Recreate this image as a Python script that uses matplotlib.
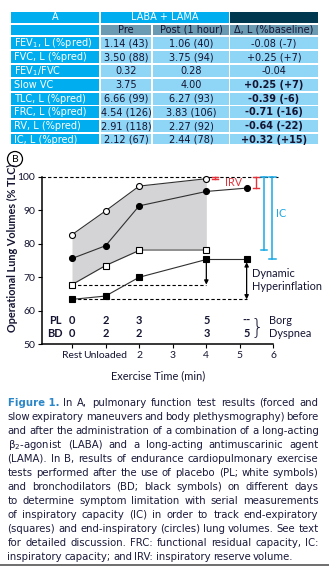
import matplotlib
matplotlib.use('Agg')
import matplotlib.pyplot as plt
from matplotlib.patches import Rectangle, Circle

plt.rcParams['mathtext.default'] = 'regular'

# ---- table (panel A) ----
row_labels = ['FEV$_1$, L (%pred)', 'FVC, L (%pred)', 'FEV$_1$/FVC', 'Slow VC',
              'TLC, L (%pred)', 'FRC, L (%pred)', 'RV, L (%pred)', 'IC, L (%pred)']
pre = ['1.14 (43)', '3.50 (88)', '0.32', '3.75', '6.66 (99)', '4.54 (126)', '2.91 (118)', '2.12 (67)']
post = ['1.06 (40)', '3.75 (94)', '0.28', '4.00', '6.27 (93)', '3.83 (106)', '2.27 (92)', '2.44 (78)']
delta = ['-0.08 (-7)', '+0.25 (+7)', '-0.04', '+0.25 (+7)', '-0.39 (-6)', '-0.71 (-16)',
         '-0.64 (-22)', '+0.32 (+15)']
delta_bold = [False, False, False, True, True, True, True, True]

# ---- exercise test (panel B) ----
xticks = [0, 1, 2, 3, 4, 5, 6]
xtick_labels = ['Rest', 'Unloaded', '2', '3', '4', '5', '6']
pl_x = [0, 1, 2, 4]
bd_x = [0, 1, 2, 4, 5.2]
pl_insp = [82.7, 89.8, 97.2, 99.4]
bd_insp = [75.6, 79.4, 91.3, 95.6, 96.6]
pl_exp = [67.8, 73.5, 78.0, 78.0]
bd_exp = [63.4, 64.4, 70.0, 75.3, 75.3]
borg_x = [0, 1, 2, 4, 5.2]
pl_borg = ['0', '2', '3', '5', '--']
bd_borg = ['0', '2', '2', '3', '5']

caption = [
    [('Figure 1.', 'b'), ('In', 'n'), ('A,', 'n'), ('pulmonary', 'n'), ('function', 'n'), ('test', 'n'),
     ('results', 'n'), ('(forced', 'n'), ('and', 'n')],
    'slow expiratory maneuvers and body plethysmography) before',
    'and after the administration of a combination of a long-acting',
    '\u03b2$_2$-agonist (LABA) and a long-acting antimuscarinic agent',
    '(LAMA). In B, results of endurance cardiopulmonary exercise',
    'tests performed after the use of placebo (PL; white symbols)',
    'and bronchodilators (BD; black symbols) on different days',
    'to determine symptom limitation with serial measurements',
    'of inspiratory capacity (IC) in order to track end-expiratory',
    '(squares) and end-inspiratory (circles) lung volumes. See text',
    'for detailed discussion. FRC: functional residual capacity, IC:',
    'inspiratory capacity; and IRV: inspiratory reserve volume.',
]

W, H = 329, 567
fig = plt.figure(figsize=(W / 100, H / 100), dpi=100)
fig.patch.set_facecolor('white')
ov = fig.add_axes([0, 0, 1, 1])
ov.set_xlim(0, W)
ov.set_ylim(H, 0)
ov.axis('off')

blue = '#00adef'
light = '#8fd6f6'
grayblue = '#6b9ab3'
navy = '#00394f'
txt = '#141432'
tfs = 7.0

cols = [(11, 99.3), (100.7, 151.3), (153.3, 228.7), (230, 318)]

def cell(x0, x1, y0, h, c):
    ov.add_patch(Rectangle((x0, y0), x1 - x0, h, facecolor=c, edgecolor='none'))

# header rows
cell(cols[0][0], cols[0][1], 12, 10.7, blue)
cell(cols[1][0], cols[2][1], 12, 10.7, blue)
cell(cols[3][0], cols[3][1], 12, 10.7, navy)
ov.text(55, 17.4, 'A', color='white', fontsize=tfs, ha='center', va='center')
ov.text((cols[1][0] + cols[2][1]) / 2, 17.4, 'LABA + LAMA', color='white', fontsize=tfs,
        ha='center', va='center')
cell(cols[0][0], cols[0][1], 24.7, 10.7, blue)
for (a, b), s in zip(cols[1:], ['Pre', 'Post (1 hour)', '\u0394, L (%baseline)']):
    cell(a, b, 24.7, 10.7, grayblue)
    ov.text((a + b) / 2, 30.0, s, color=txt, fontsize=tfs, ha='center', va='center')

for i in range(len(row_labels)):
    y0 = 37.3 + 13.8 * i
    h = 12 if i < len(row_labels) - 1 else 10.5
    yc = y0 + 6
    cell(cols[0][0], cols[0][1], y0, h, blue)
    ov.text(14, yc, row_labels[i], color='white', fontsize=tfs, ha='left', va='center')
    for j, vals in enumerate([pre, post, delta]):
        a, b = cols[j + 1]
        cell(a, b, y0, h, light)
        fw = 'bold' if (j == 2 and delta_bold[i]) else 'normal'
        ov.text((a + b) / 2, yc, vals[i], color=txt, fontsize=tfs, ha='center', va='center',
                fontweight=fw)

# circled B
ov.add_patch(Circle((15, 159), 7.5, facecolor='white', edgecolor='black', lw=0.9))
ov.text(15, 159.5, 'B', fontsize=7.5, ha='center', va='center', family='Lato', color='black')

# ---- chart ----
x_left, x_right = 42, 273.5
y_top, y_bot = 176.7, 344.3
ax = fig.add_axes([x_left / W, 1 - y_bot / H, (x_right - x_left) / W, (y_bot - y_top) / H])
ax.set_facecolor('none')
ax.set_xlim(-0.893, 6)
ax.set_ylim(50, 100)
for s in ['top', 'right']:
    ax.spines[s].set_visible(False)
for s in ['left', 'bottom']:
    ax.spines[s].set_linewidth(1.1)
ax.set_yticks([50, 60, 70, 80, 90, 100])
ax.set_xticks(xticks)
ax.set_xticklabels(xtick_labels)
ax.tick_params(length=3, width=0.8, pad=2, labelsize=7.5, labelcolor=txt)
for lab in ax.get_xticklabels() + ax.get_yticklabels():
    lab.set_family('Lato')
ax.set_xlabel('Exercise Time (min)', family='Lato', fontsize=7.9, color=txt, labelpad=7)

ax.fill_between(pl_x, pl_insp, pl_exp, color='#d4d4d6', lw=0, zorder=1)
ax.plot(pl_x[2:], pl_exp[2:], color='#8a8a8a', lw=1.3, zorder=2)

lc = '#303030'
ax.plot(pl_x, pl_insp, color=lc, lw=0.8, marker='o', ms=4.3, mfc='white', mec='black', mew=0.8,
        zorder=4, clip_on=False)
ax.plot(bd_x, bd_insp, color=lc, lw=0.8, marker='o', ms=4.3, mfc='black', mec='black', mew=0.8,
        zorder=4, clip_on=False)
ax.plot(pl_x[:3], pl_exp[:3], color=lc, lw=0.8, zorder=3)
ax.plot(pl_x, pl_exp, ls='none', marker='s', ms=4.3, mfc='white', mec='black', mew=0.8, zorder=4)
ax.plot(bd_x, bd_exp, color=lc, lw=0.8, marker='s', ms=4.3, mfc='black', mec='black', mew=0.8,
        zorder=4)

dash = (0, (3, 2))
ax.plot([-0.893, 6.13], [100, 100], color='black', lw=0.8, ls=dash, clip_on=False, zorder=2)
ax.plot([pl_x[0], pl_x[-1]], [pl_exp[0], pl_exp[0]], color='black', lw=0.8, ls=dash, zorder=2)
ax.plot([bd_x[0], bd_x[-1]], [bd_exp[0], bd_exp[0]], color='black', lw=0.8, ls=dash, zorder=2)

ax.annotate('', xy=(4, pl_exp[0]), xytext=(4, bd_exp[3]),
            arrowprops=dict(arrowstyle='-|>', color='black', lw=0.9, mutation_scale=6,
                            shrinkA=2, shrinkB=0))
ax.annotate('', xy=(5.2, bd_exp[0]), xytext=(5.2, bd_exp[-1]),
            arrowprops=dict(arrowstyle='<|-|>', color='black', lw=0.9, mutation_scale=6,
                            shrinkA=2, shrinkB=0))
ax.text(5.36, 71.2, 'Dynamic', family='Lato', fontsize=7.9, color=txt, va='center')
ax.text(5.36, 67.3, 'Hyperinflation', family='Lato', fontsize=7.9, color=txt, va='center',
        clip_on=False)

red = '#e5323b'
cap = 0.09
for xx, lo in [(4.26, pl_insp[-1]), (5.48, bd_insp[-1])]:
    ax.plot([xx, xx], [lo, 100], color=red, lw=1.0, clip_on=False)
    ax.plot([xx - cap, xx + cap], [lo, lo], color=red, lw=1.0, clip_on=False)
    ax.plot([xx - cap, xx + cap], [100, 100], color=red, lw=1.0, clip_on=False)
ax.text(4.82, 98.3, 'IRV', color=red, family='Lato', fontsize=7.8, ha='center', va='center')

icb = '#1aa9e6'
for xx, lo in [(5.72, pl_exp[-1]), (5.97, bd_exp[-1])]:
    ax.plot([xx, xx], [lo, 100], color=icb, lw=1.1, clip_on=False)
    ax.plot([xx - cap, xx + cap], [lo, lo], color=icb, lw=1.1, clip_on=False)
    ax.plot([xx - cap, xx + cap], [100, 100], color=icb, lw=1.1, clip_on=False)
ax.text(6.24, 89, 'IC', color=icb, family='Lato', fontsize=7.8, ha='center', va='center',
        clip_on=False)

bfs = 7.9
ax.text(-0.5, 57.2, 'PL', family='Lato', fontsize=bfs, fontweight='bold', color=txt,
        ha='center', va='center')
ax.text(-0.5, 53.2, 'BD', family='Lato', fontsize=bfs, fontweight='bold', color=txt,
        ha='center', va='center')
for xx, a, b in zip(borg_x, pl_borg, bd_borg):
    ax.text(xx, 57.2, a, family='Lato', fontsize=bfs, fontweight='bold', color=txt,
            ha='center', va='center')
    ax.text(xx, 53.2, b, family='Lato', fontsize=bfs, fontweight='bold', color=txt,
            ha='center', va='center')
ax.text(5.5, 55.2, '}', family='DejaVu Sans', fontsize=15, fontweight='light', color=txt,
        ha='center', va='center')
ax.text(5.87, 57.2, 'Borg', family='Lato', fontsize=bfs, color=txt, va='center', clip_on=False)
ax.text(5.87, 53.2, 'Dyspnea', family='Lato', fontsize=bfs, color=txt, va='center', clip_on=False)

ov.text(12.5, 247.5, 'Operational Lung Volumes (% TLC)', rotation=90, family='Lato',
        fontsize=7.8, fontweight='bold', color=txt, ha='center', va='center')

# ---- caption, justified ----
cfs = 7.3
capc = '#1a1a3c'
x0c, x1c = 7.5, 318.5
renderer = fig.canvas.get_renderer()
for i, line in enumerate(caption):
    yb = 405.7 + 14.0 * i
    if isinstance(line, str):
        words = [(w, 'n') for w in line.split(' ')]
    else:
        words = line
    objs = []
    for w, st in words:
        if st == 'b':
            t = ov.text(0, yb, w, fontsize=cfs, fontweight='bold', color='#2a86c6', va='baseline')
        else:
            t = ov.text(0, yb, w, fontsize=cfs, color=capc, va='baseline')
        objs.append(t)
    widths = [t.get_window_extent(renderer).width for t in objs]
    if i < len(caption) - 1:
        gap = (x1c - x0c - sum(widths)) / (len(objs) - 1)
    else:
        gap = 2.4
    if gap < 1.5:
        gap = 1.5
    xx = x0c
    for t, wd in zip(objs, widths):
        t.set_x(xx)
        xx += wd + gap

ov.plot([0, W], [565, 565], color='#555555', lw=1.2)

fig.savefig('out.png', dpi=100)
